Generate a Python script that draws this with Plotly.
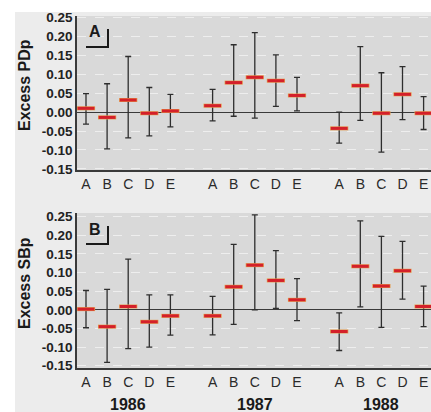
import plotly.graph_objects as go

# ---------------- data ----------------
categories = ['A', 'B', 'C', 'D', 'E']
years = ['1986', '1987', '1988']

pdp_mid = [0.010, -0.014, 0.032, -0.003, 0.003,
           0.017, 0.078, 0.092, 0.083, 0.044,
           -0.043, 0.070, -0.003, 0.047, -0.003]
pdp_hi = [0.049, 0.075, 0.147, 0.065, 0.047,
          0.060, 0.178, 0.210, 0.151, 0.092,
          0.000, 0.173, 0.104, 0.120, 0.041]
pdp_lo = [-0.032, -0.097, -0.068, -0.063, -0.039,
          -0.023, -0.011, -0.016, 0.015, 0.003,
          -0.082, -0.022, -0.106, -0.020, -0.046]

sbp_mid = [0.002, -0.045, 0.009, -0.032, -0.016,
           -0.016, 0.062, 0.120, 0.079, 0.027,
           -0.058, 0.117, 0.064, 0.105, 0.009]
sbp_hi = [0.052, 0.055, 0.136, 0.040, 0.040,
          0.036, 0.176, 0.255, 0.159, 0.084,
          -0.008, 0.239, 0.197, 0.184, 0.064]
sbp_lo = [-0.048, -0.141, -0.104, -0.100, -0.068,
          -0.067, -0.039, 0.000, 0.004, -0.029,
          -0.109, 0.008, -0.047, 0.029, -0.045]

y_ticks = [0.25, 0.20, 0.15, 0.10, 0.05, 0.00, -0.05, -0.10, -0.15]

# ---------------- layout helpers ----------------
W, H = 431, 412
ML, MR, MT, MB = 77, 0, 16, 44
PW, PH = W - ML - MR, H - MT - MB


def px(x):
    return (x - ML) / PW


def py(y):
    return (H - MB - y) / PH


xpos = []
labels = []
for yi, _ in enumerate(years):
    for ci, c in enumerate(categories):
        xpos.append(yi * 6 + ci)
        labels.append(c)

SANS = "Liberation Sans, Arial, sans-serif"
RED = '#d4202a'
EDGE = '#e59a4a'
BAR = '#2e2e2e'

fig = go.Figure()


def add_panel(mid, hi, lo, xa, ya):
    plus = [h - m for h, m in zip(hi, mid)]
    minus = [m - l for m, l in zip(mid, lo)]
    fig.add_trace(go.Scatter(
        x=xpos, y=mid, mode='markers', xaxis=xa, yaxis=ya,
        marker=dict(symbol='line-ew', size=13, color=EDGE,
                    line=dict(color=EDGE, width=4)),
        error_y=dict(type='data', symmetric=False, array=plus, arrayminus=minus,
                     color=BAR, thickness=1.3, width=3),
        showlegend=False, hoverinfo='skip', cliponaxis=False))
    fig.add_trace(go.Scatter(
        x=xpos, y=mid, mode='markers', xaxis=xa, yaxis=ya,
        marker=dict(symbol='line-ew', size=12, color=RED,
                    line=dict(color=RED, width=3)),
        showlegend=False, hoverinfo='skip', cliponaxis=False))


add_panel(pdp_mid, pdp_hi, pdp_lo, 'x2', 'y2')
add_panel(sbp_mid, sbp_hi, sbp_lo, 'x', 'y')

xr = [-9 / 21.1, 345 / 21.1]
xcommon = dict(range=xr, tickmode='array', tickvals=xpos, ticktext=labels,
               showgrid=False, zeroline=False, showline=True,
               linecolor='#3a3a3a', linewidth=1.5, ticks='',
               tickfont=dict(family=SANS, size=14, color='#2a2a2a'),
               fixedrange=True, automargin=False)
ycommon = dict(tickmode='array', tickvals=y_ticks,
               ticktext=['<b>%.2f</b>' % v for v in y_ticks],
               showgrid=True, gridcolor='#eeeeee', griddash='dash', gridwidth=1,
               zeroline=True, zerolinecolor='#3a3a3a', zerolinewidth=1.3,
               showline=True, linecolor='#3a3a3a', linewidth=1.5, ticks='',
               tickfont=dict(family=SANS, size=13.5, color='#222222'),
               fixedrange=True, automargin=False)

top_dom = [py(170), py(16)]
bot_dom = [py(368), py(213)]

fig.update_layout(
    width=W, height=H,
    margin=dict(l=ML, r=MR, t=MT, b=MB, autoexpand=False),
    paper_bgcolor='#ececec', plot_bgcolor='#d9d9d9',
    xaxis=dict(xcommon, anchor='y', domain=[0, 1]),
    yaxis=dict(ycommon, domain=bot_dom, range=[-0.156, 0.260], anchor='x'),
    xaxis2=dict(xcommon, anchor='y2', domain=[0, 1]),
    yaxis2=dict(ycommon, domain=top_dom, range=[-0.153, 0.254], anchor='x2'),
    showlegend=False,
)

shapes = [
    # white page edges (scan margin)
    dict(type='rect', xref='paper', yref='paper', x0=px(0), x1=px(W), y0=py(12), y1=py(0),
         fillcolor='white', line=dict(width=0), layer='below'),
    dict(type='rect', xref='paper', yref='paper', x0=px(0), x1=px(15), y0=py(H), y1=py(0),
         fillcolor='white', line=dict(width=0), layer='below'),
]
annotations = []

# panel labels with L brackets
for letter, top in (('A', 16), ('B', 213)):
    annotations.append(dict(text='<b>%s</b>' % letter, xref='paper', yref='paper',
                            x=px(95), y=py(top + 16), xanchor='center', yanchor='middle',
                            showarrow=False, font=dict(family=SANS, size=16, color='#1a1a1a')))
    shapes.append(dict(type='line', xref='paper', yref='paper',
                       x0=px(108), x1=px(108), y0=py(top + 13), y1=py(top + 31),
                       line=dict(color='#1a1a1a', width=2)))
    shapes.append(dict(type='line', xref='paper', yref='paper',
                       x0=px(86), x1=px(109), y0=py(top + 31), y1=py(top + 31),
                       line=dict(color='#1a1a1a', width=2)))

# y-axis titles
for title, cy in (('Excess PDp', 85), ('Excess SBp', 283)):
    annotations.append(dict(text='<b>%s</b>' % title, xref='paper', yref='paper',
                            x=px(24), y=py(cy), xanchor='center', yanchor='middle',
                            textangle=-90, showarrow=False,
                            font=dict(family=SANS, size=16, color='#1a1a1a')))

# year labels
for yi, yr in enumerate(years):
    annotations.append(dict(text='<b>%s</b>' % yr, xref='x', yref='paper',
                            x=yi * 6 + 2, y=py(404), xanchor='center', yanchor='middle',
                            showarrow=False,
                            font=dict(family=SANS, size=16, color='#1a1a1a')))

fig.update_layout(shapes=shapes, annotations=annotations)

fig.write_html("out.html", config={'displayModeBar': False},
               post_script="document.body.style.margin='0';document.body.style.overflow='hidden';")
